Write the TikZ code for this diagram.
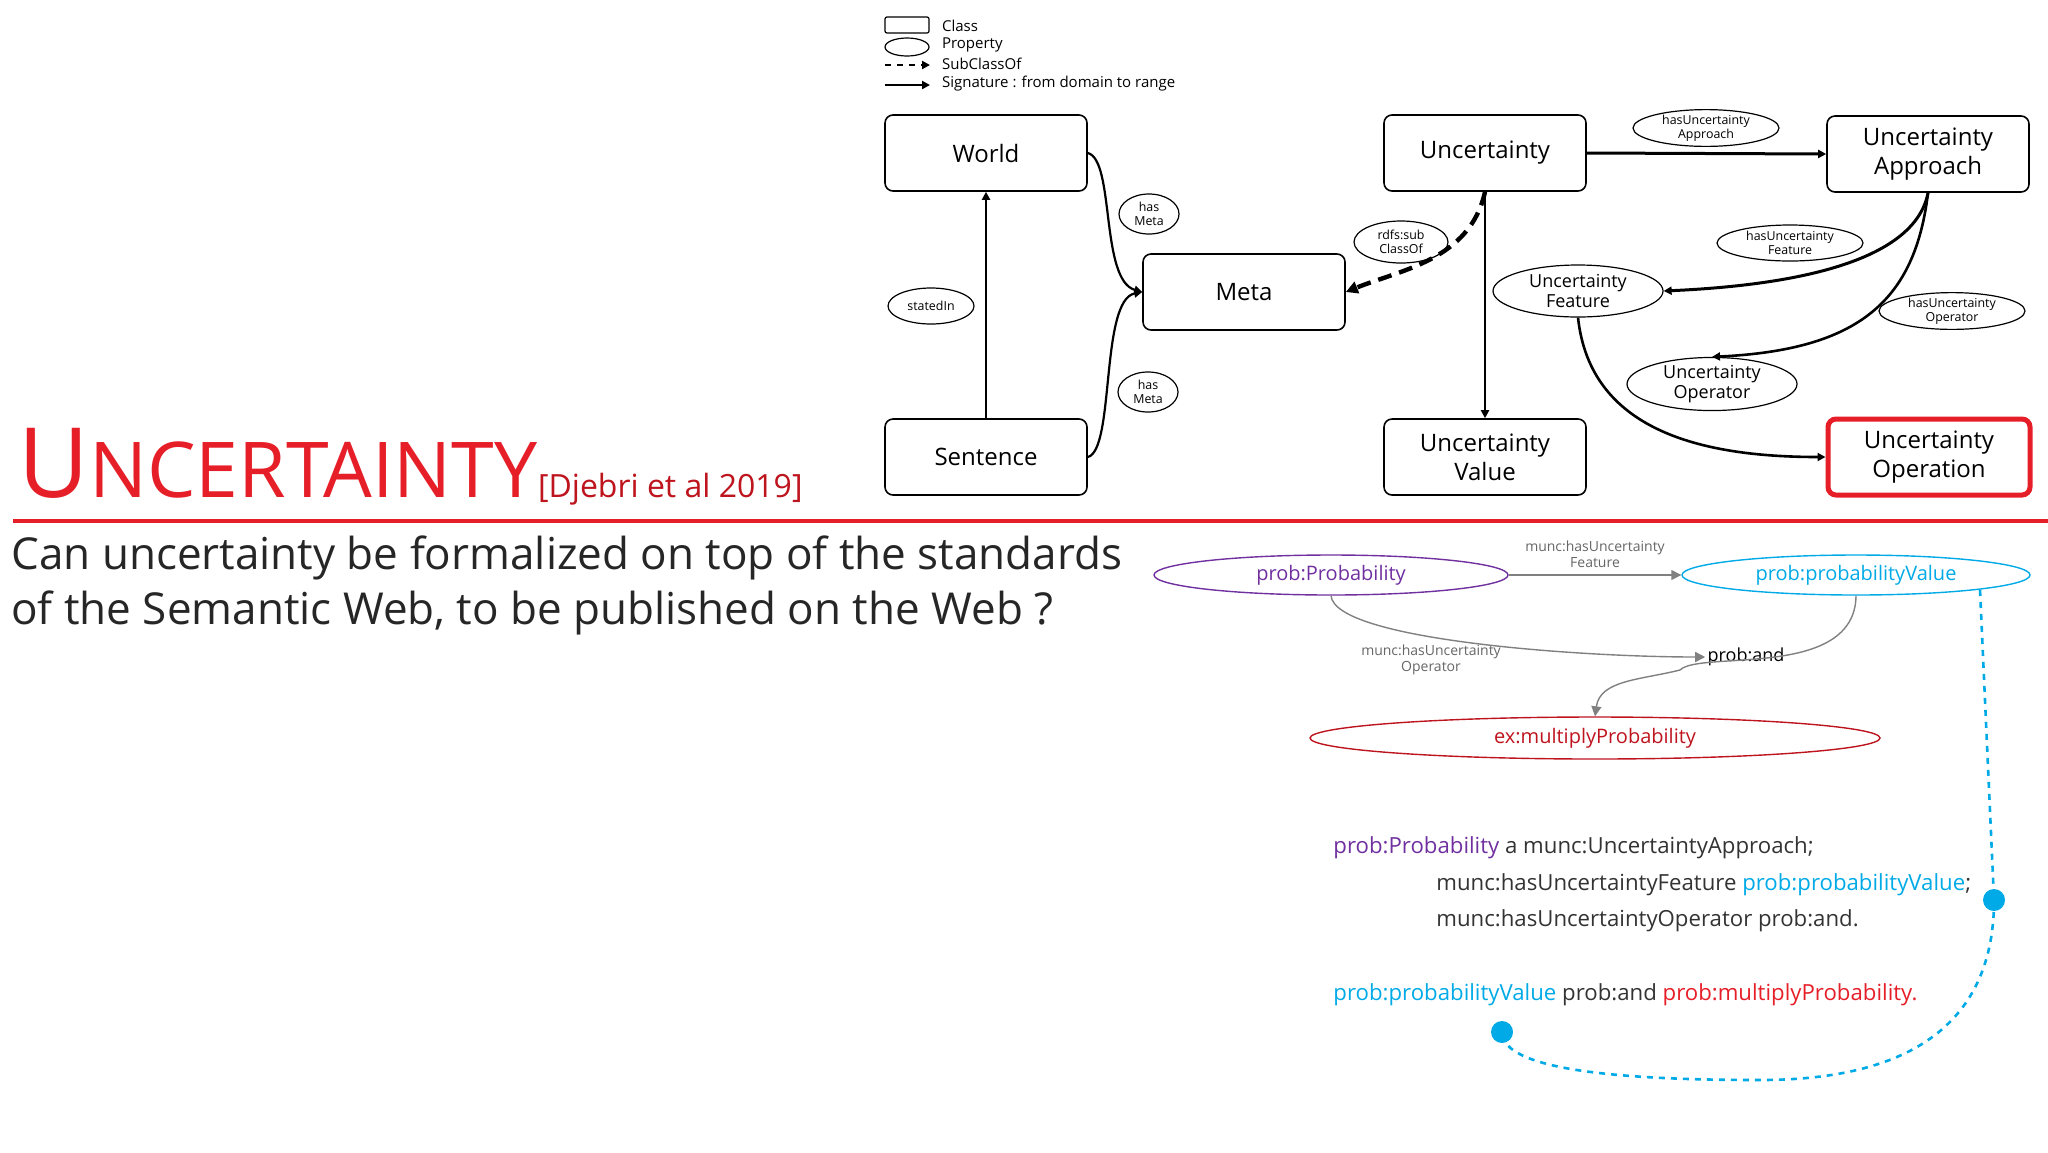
\documentclass[tikz,border=0pt]{standalone}
\usepackage{fontspec}
\setmainfont{Open Sans}
\usetikzlibrary{arrows.meta}
\definecolor{tred}{RGB}{230,30,40}
\definecolor{dred}{RGB}{190,20,30}
\definecolor{purp}{RGB}{112,48,160}
\definecolor{cyanb}{RGB}{0,170,230}
\tikzset{
 cls/.style={draw,rounded corners=4pt,line width=0.8pt,minimum width=101pt,minimum height=38pt,align=center,font=\fontsize{12}{14.5}\selectfont},
 prop/.style={draw,ellipse,line width=0.6pt,inner sep=0pt,align=center,font=\fontsize{6.2}{6.8}\selectfont},
 sig/.style={line width=1.1pt,-{Triangle[length=4pt,width=4pt]}},
 lprop/.style={draw,ellipse,line width=0.7pt,inner sep=0pt,font=\fontsize{10}{11}\selectfont},
 garr/.style={draw=gray,line width=0.7pt,-{Triangle[length=5pt,width=5pt]}},
 glab/.style={text=gray!80!black,align=center,font=\fontsize{7}{8}\selectfont},
 code/.style={anchor=base west,inner sep=0pt,font=\fontsize{11.1}{12}\selectfont,text=black!80},
}
\usetikzlibrary{shapes.geometric}
\begin{document}
\begin{tikzpicture}[x=0.5pt,y=-0.5pt]
\useasboundingbox (0,0) rectangle (2048,1152);
% legend
\node[draw,rounded corners=1pt,minimum width=22pt,minimum height=8pt,inner sep=0pt,line width=0.6pt] (lc) at (907,25) {};
\node[anchor=west,font=\fontsize{7.5}{8}\selectfont] (lct) at (935,26) {Class};
\node[draw,ellipse,minimum width=22pt,minimum height=9pt,inner sep=0pt,line width=0.6pt] (lp) at (907,47) {};
\node[anchor=west,font=\fontsize{7.5}{8}\selectfont] (lpt) at (935,45) {Property};
\coordinate (ls1) at (885,65); \coordinate (ls2) at (930,65);
\draw[line width=1pt,dashed,-{Triangle[length=4pt,width=4pt]}] (ls1) -- (ls2);
\node[anchor=west,font=\fontsize{7.5}{8}\selectfont] (lst) at (935,64) {SubClassOf};
\coordinate (lg1) at (885,85); \coordinate (lg2) at (930,85);
\draw[sig] (lg1) -- (lg2);
\node[anchor=west,font=\fontsize{7.5}{8}\selectfont] (lgt) at (935,84) {Signature : from domain to range};
% classes
\node[cls] (world) at (986,153) {World};
\node[cls] (sent) at (986,457) {Sentence};
\node[cls] (meta) at (1244,292) {Meta};
\node[cls] (unc) at (1485,153) {Uncertainty};
\node[cls] (uval) at (1485,457) {Uncertainty\\Value};
\node[cls] (uapp) at (1928,154) {Uncertainty\\Approach};
\node[cls,draw=tred,line width=2.5pt] (uop) at (1929,457) {Uncertainty\\Operation};
% properties
\node[prop,minimum width=73pt,minimum height=18pt] (phua) at (1706,128) {hasUncertainty\\Approach};
\node[prop,font=\fontsize{9}{10}\selectfont,minimum width=85pt,minimum height=26pt] (pfeat) at (1578,291) {Uncertainty\\Feature};
\node[prop,minimum width=73pt,minimum height=18pt] (phuf) at (1790,243) {hasUncertainty\\Feature};
\node[prop,minimum width=73pt,minimum height=18pt] (phuo) at (1952,311) {hasUncertainty\\Operator};
\node[prop,font=\fontsize{9}{10}\selectfont,minimum width=85pt,minimum height=26pt] (poper) at (1712,384) {Uncertainty\\Operator};
\node[prop,minimum width=47pt,minimum height=21pt] (prdf) at (1401,242) {rdfs:sub\\ClassOf};
\node[prop,minimum width=30pt,minimum height=20pt] (pm1) at (1149,214) {has\\Meta};
\node[prop,minimum width=30pt,minimum height=20pt] (pm2) at (1148,392) {has\\Meta};
\node[prop,minimum width=43pt,minimum height=18pt] (pst) at (931,306) {statedIn};
% edges
\draw[sig] (sent.north) -- (world.south);
\draw[sig] (world.east) .. controls (1115,160) and (1100,280) .. (meta.west);
\draw[sig] (sent.east) .. controls (1115,450) and (1100,300) .. (meta.west);
\draw[line width=2.2pt,dash pattern=on 7pt off 4pt,-{Triangle[length=6pt,width=6pt]}] (unc.south) .. controls (1470,260) and (1400,270) .. (meta.east);
\draw[sig] (unc.south) -- (uval.north);
\draw[sig,line width=1.5pt] (unc.east) -- (uapp.west);
\draw[sig,line width=1.5pt] (uapp.south) .. controls (1915,260) and (1800,285) .. (pfeat.east);
\draw[sig,line width=1.3pt] (uapp.south) .. controls (1915,300) and (1860,350) .. (poper.north);
\draw[sig,line width=1.3pt] (pfeat.south) .. controls (1590,430) and (1700,457) .. (uop.west);
% title
\node[anchor=base west,inner sep=0pt,text=tred,font=\fontsize{48.5}{50}\selectfont] (title) at (18,497) {U\fontsize{38.5}{40}\selectfont NCERTAINTY};
\node[anchor=base west,inner sep=0pt,text=dred,font=\fontsize{16}{20}\selectfont] (cite) at (title.base east) {[Djebri et al 2019]};
\coordinate (rl1) at (13,521); \coordinate (rl2) at (2048,521);
\draw[tred,line width=2pt] (rl1) -- (rl2);
\node[anchor=north west,inner sep=0pt,align=left,font=\fontsize{22}{27.5}\selectfont,text=black!85] (q) at (11,535) {Can uncertainty be formalized on top of the standards\\of the Semantic Web, to be published on the Web ?};
% lower diagram
\node[lprop,draw=purp,text=purp,minimum width=177pt,minimum height=20pt] (pp) at (1331,575) {prob:Probability};
\node[lprop,draw=cyanb,text=cyanb,minimum width=174pt,minimum height=20pt] (pv) at (1856,575) {prob:probabilityValue};
\node[lprop,draw=dred,text=dred,minimum width=285pt,minimum height=21pt] (mp) at (1595,738) {ex:multiplyProbability};
\node[inner sep=1pt,font=\fontsize{9}{10}\selectfont] (and) at (1746,657) {prob:and};
\draw[garr] (pp.east) -- (pv.west);
\node[glab] (l1) at (1595,554) {munc:hasUncertainty\\Feature};
\draw[garr] (pp.south) .. controls (1335,640) and (1580,657) .. (and.west);
\node[glab] (l2) at (1431,660) {munc:hasUncertainty\\Operator};
\draw[garr] (pv.south) .. controls (1855,680) and (1700,650) .. (1680,670) .. controls (1640,680) and (1600,680) .. (mp.north);
% code
\node[code] (c1) at (1333,853) {\textcolor{purp}{prob:Probability} a munc:UncertaintyApproach;};
\node[code] (c2) at (1436,890) {munc:hasUncertaintyFeature \textcolor{cyanb}{prob:probabilityValue};};
\node[code] (c3) at (1436,926) {munc:hasUncertaintyOperator prob:and.};
\node[code] (c4) at (1333,1000) {\textcolor{cyanb}{prob:probabilityValue} prob:and \textcolor{tred}{prob:multiplyProbability.}};
\coordinate (d1) at (1980,590);
\node[circle,fill=cyanb,inner sep=0pt,minimum size=11pt] (dot1) at (1994,900) {};
\node[circle,fill=cyanb,inner sep=0pt,minimum size=11pt] (dot2) at (1502,1032) {};
\draw[cyanb,line width=1.3pt,dashed] (d1) -- (dot1.center);
\draw[cyanb,line width=1.3pt,dashed] (dot1.center) .. controls (1994,1050) and (1870,1080) .. (1760,1080) .. controls (1620,1080) and (1502,1070) .. (dot2.center);
\end{tikzpicture}
\end{document}
